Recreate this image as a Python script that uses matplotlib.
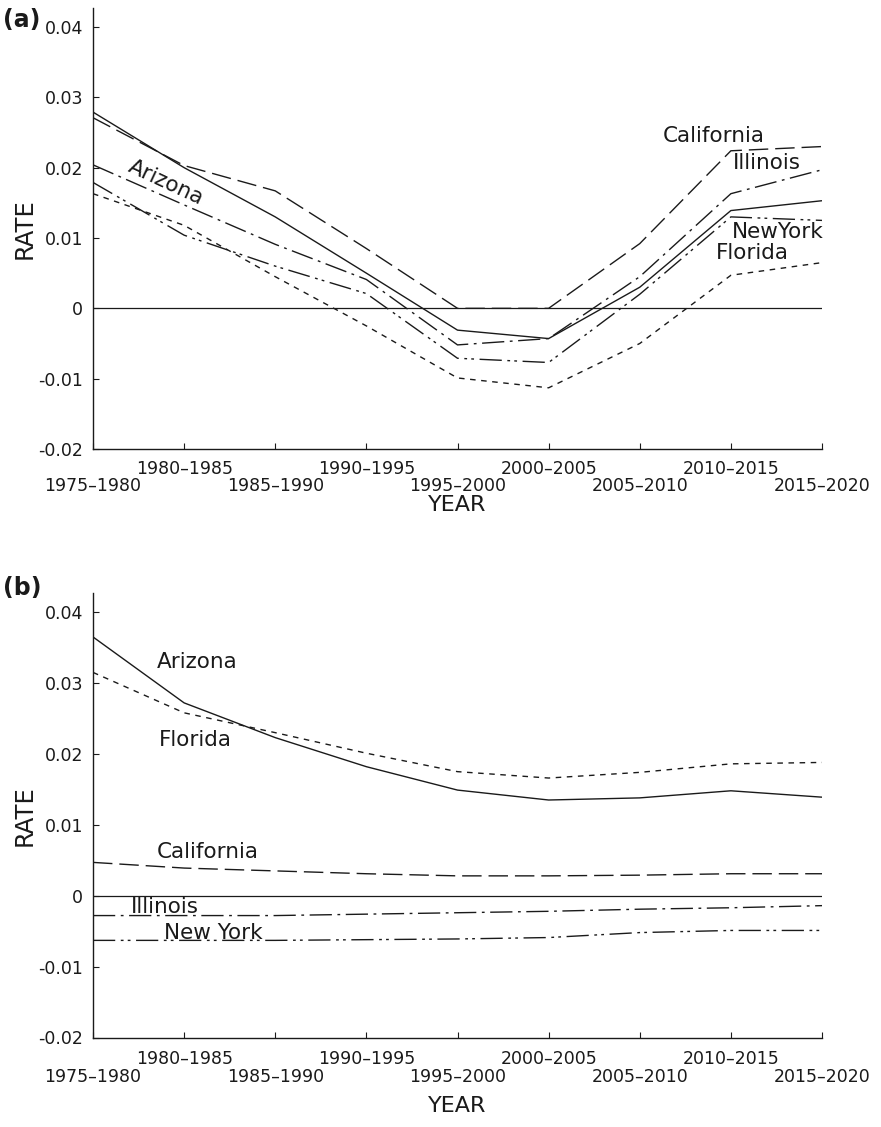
import matplotlib
matplotlib.use("Agg")
import matplotlib.pyplot as plt
from matplotlib.ticker import FixedLocator

plt.rcParams['font.family'] = ['DejaVu Sans']

periods = ["1975\u20131980", "1980\u20131985", "1985\u20131990", "1990\u20131995",
           "1995\u20132000", "2000\u20132005", "2005\u20132010", "2010\u20132015",
           "2015\u20132020"]
yticks = [-0.02, -0.01, 0, 0.01, 0.02, 0.03, 0.04]
ytick_labels = ["-0.02", "-0.01", "0", "0.01", "0.02", "0.03", "0.04"]

# Panel (a)
a_arizona    = [0.0279, 0.0200, 0.0130, 0.0050, -0.0031, -0.0043, 0.0030, 0.0139, 0.0153]
a_california = [0.0271, 0.0203, 0.0167, 0.0085, 0.0000, 0.0000, 0.0092, 0.0224, 0.0230]
a_illinois   = [0.0204, 0.0147, 0.0091, 0.0041, -0.0052, -0.0043, 0.0045, 0.0163, 0.0197]
a_newyork    = [0.0179, 0.0104, 0.0060, 0.0021, -0.0071, -0.0077, 0.0020, 0.0130, 0.0125]
a_florida    = [0.0163, 0.0118, 0.0045, -0.0025, -0.0099, -0.0113, -0.0050, 0.0047, 0.0065]

# Panel (b)
b_arizona    = [0.0365, 0.0272, 0.0223, 0.0182, 0.0149, 0.0135, 0.0138, 0.0148, 0.0139]
b_florida    = [0.0315, 0.0258, 0.0230, 0.0201, 0.0175, 0.0166, 0.0174, 0.0186, 0.0188]
b_california = [0.0047, 0.0039, 0.0035, 0.0031, 0.0028, 0.0028, 0.0029, 0.0031, 0.0031]
b_illinois   = [-0.0028, -0.0028, -0.0028, -0.0026, -0.0024, -0.0022, -0.0019, -0.0017, -0.0014]
b_newyork    = [-0.0063, -0.0063, -0.0063, -0.0062, -0.0061, -0.0059, -0.0052, -0.0049, -0.0049]

INK = "#1a1a1a"
styles = {
    "Arizona": (0, ()),
    "California": (0, (14, 5)),
    "Illinois": (0, (16, 4, 2, 4)),
    "New York": (0, (16, 4, 2, 3, 2, 4)),
    "Florida": (0, (4, 4)),
}

fig = plt.figure(figsize=(8.81, 11.27), dpi=100)
W, H = 881.0, 1127.0


def make_axes(top_px, bottom_px, ymin, ymax, pad_minor, pad_major, xlabelpad):
    left = 93 / W
    width = (822 - 93) / W
    ax = fig.add_axes([left, 1 - bottom_px / H, width, (bottom_px - top_px) / H])
    ax.set_xlim(0, 8)
    ax.set_ylim(ymin, ymax)
    for s in ("top", "right"):
        ax.spines[s].set_visible(False)
    for s in ("left", "bottom"):
        ax.spines[s].set_color(INK)
        ax.spines[s].set_linewidth(1.0)
    ax.set_yticks(yticks)
    ax.set_yticklabels(ytick_labels, fontsize=12.5, color=INK)
    ax.tick_params(axis="y", direction="in", length=4, width=0.8, pad=7, colors=INK)
    xs = list(range(len(periods)))
    ax.xaxis.set_major_locator(FixedLocator(xs[0::2]))
    ax.xaxis.set_minor_locator(FixedLocator(xs[1::2]))
    ax.set_xticklabels(periods[0::2], fontsize=12.5, color=INK)
    ax.set_xticklabels(periods[1::2], minor=True, fontsize=12.5, color=INK)
    ax.tick_params(axis="x", which="major", direction="in", length=4, width=0.8, pad=pad_major, colors=INK)
    ax.tick_params(axis="x", which="minor", direction="in", length=4, width=0.8, pad=pad_minor, colors=INK)
    ax.axhline(0, color=INK, lw=0.9)
    ax.set_ylabel("RATE", fontsize=17.5, color=INK, labelpad=1)
    ax.set_xlabel("YEAR", fontsize=16, color=INK, labelpad=xlabelpad)
    ax.patch.set_alpha(0)
    return ax


x = list(range(len(periods)))
lab_kw = dict(fontsize=15.5, color=INK, ha="center", va="center")

# ---- Panel (a)
ax1 = make_axes(8, 449, -0.02, 0.0427, pad_minor=8, pad_major=20, xlabelpad=0.5)
for name, vals in [("Arizona", a_arizona), ("California", a_california),
                   ("Illinois", a_illinois), ("New York", a_newyork),
                   ("Florida", a_florida)]:
    ax1.plot(x, vals, color=INK, lw=1.0, linestyle=styles[name])
ax1.text(0.80, 0.0179, "Arizona", rotation=-25, **lab_kw)
ax1.text(6.81, 0.0245, "California", **lab_kw)
ax1.text(7.40, 0.0206, "Illinois", **lab_kw)
ax1.text(7.51, 0.0109, "NewYork", **lab_kw)
ax1.text(7.24, 0.0078, "Florida", **lab_kw)
fig.text(22 / W, 1 - 20 / H, "(a)", fontsize=17, fontweight="bold", ha="center", va="center", color=INK)

# ---- Panel (b)
ax2 = make_axes(593, 1037.5, -0.02, 0.0427, pad_minor=9, pad_major=22, xlabelpad=7)
for name, vals in [("Arizona", b_arizona), ("Florida", b_florida),
                   ("California", b_california), ("Illinois", b_illinois),
                   ("New York", b_newyork)]:
    ax2.plot(x, vals, color=INK, lw=1.0, linestyle=styles[name])
ax2.text(1.14, 0.0329, "Arizona", **lab_kw)
ax2.text(1.12, 0.0219, "Florida", **lab_kw)
ax2.text(1.26, 0.0061, "California", **lab_kw)
ax2.text(0.79, -0.0016, "Illinois", **lab_kw)
ax2.text(1.32, -0.0052, "New York", **lab_kw)
fig.text(22 / W, 1 - 588 / H, "(b)", fontsize=17, fontweight="bold", ha="center", va="center", color=INK)

fig.savefig("out.png", dpi=100, facecolor="white")
